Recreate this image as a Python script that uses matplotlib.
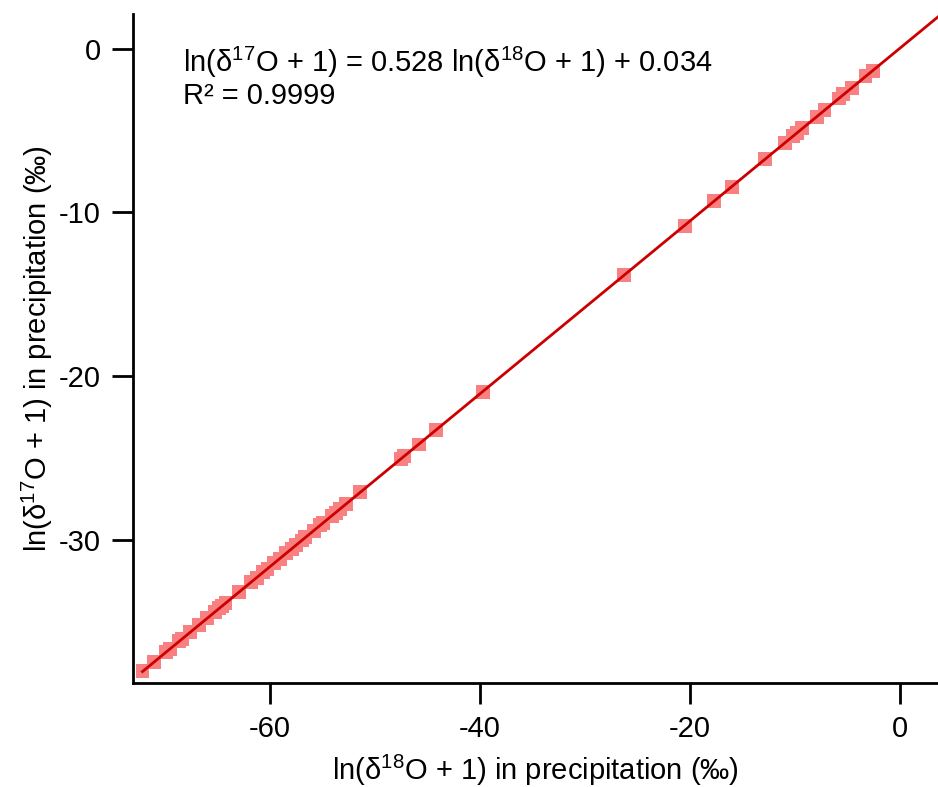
import matplotlib
matplotlib.use("Agg")
import matplotlib.pyplot as plt
import numpy as np

plt.rcParams['font.family'] = ['Liberation Sans', 'DejaVu Sans']
plt.rcParams['mathtext.fontset'] = 'custom'
plt.rcParams['mathtext.rm'] = 'Liberation Sans'
plt.rcParams['mathtext.it'] = 'Liberation Sans'
plt.rcParams['mathtext.bf'] = 'Liberation Sans'

# ln(d18O+1) in precipitation (permil)
d18 = [-72.1, -71.0, -69.9, -69.5, -68.6, -68.3, -67.6, -66.7, -66.0, -65.2,
       -64.8, -64.5, -64.2, -62.9, -61.8, -61.2, -60.6, -60.2, -59.6, -59.0,
       -58.4, -57.9, -57.5, -56.9, -56.6, -55.8, -55.2, -54.9, -54.1, -53.7,
       -53.3, -52.7, -51.4, -47.5, -47.2, -45.8, -44.2, -39.7, -26.3, -20.5,
       -17.7, -16.0, -12.9, -11.0, -10.2, -9.8, -9.3, -7.9, -7.2, -5.8,
       -5.4, -4.6, -3.3, -2.6]
# ln(d17O+1) in precipitation (permil)
d17 = [-38.02, -37.47, -36.85, -36.68, -36.17, -36.05, -35.64, -35.20, -34.79, -34.41,
       -34.16, -34.04, -33.84, -33.20, -32.58, -32.30, -31.94, -31.77, -31.41, -31.14,
       -30.78, -30.56, -30.31, -30.03, -29.83, -29.45, -29.09, -28.97, -28.51, -28.34,
       -28.09, -27.81, -27.08, -25.07, -24.87, -24.17, -23.28, -20.95, -13.83, -10.81,
       -9.29, -8.43, -6.76, -5.79, -5.33, -5.16, -4.86, -4.16, -3.75, -3.05,
       -2.80, -2.42, -1.69, -1.36]

slope = 0.528
intercept = 0.034
r2_text = "0.9999"

xticks = [-60, -40, -20, 0]
yticks = [0, -10, -20, -30]

fig = plt.figure(figsize=(9.38, 7.87), dpi=100)
ax = fig.add_axes([0.1418, 0.1322, 0.8582, 0.8498])

ax.scatter(d18, d17, marker='s', s=100, color='#f98080', edgecolors='none', zorder=2)

xl = np.array([min(d18), 10])
ax.plot(xl, slope * xl + intercept, color='#cc0000', lw=2.0, zorder=3)

ax.set_xlim(-73.0, 3.6)
ax.set_ylim(-38.73, 2.1)
ax.set_xticks(xticks)
ax.set_yticks(yticks)
ax.set_xticklabels([str(t) for t in xticks])
ax.set_yticklabels([str(t) for t in yticks])

for s in ['top', 'right']:
    ax.spines[s].set_visible(False)
for s in ['left', 'bottom']:
    ax.spines[s].set_linewidth(2.0)
ax.tick_params(axis='both', direction='out', length=15, width=2.0, labelsize=21, pad=8)

ax.set_xlabel(r'ln(δ$^{18}$O + 1) in precipitation (‰)', fontsize=21, labelpad=7)
ax.set_ylabel(r'ln(δ$^{17}$O + 1) in precipitation (‰)', fontsize=21, labelpad=3)

ax.text(0.062, 0.913, r'ln(δ$^{17}$O + 1) = ' + f'{slope:.3f}' + r' ln(δ$^{18}$O + 1) + ' + f'{intercept:.3f}',
        transform=ax.transAxes, fontsize=21, va='baseline', ha='left')
ax.text(0.062, 0.865, 'R² = ' + r2_text, transform=ax.transAxes, fontsize=21, va='baseline', ha='left')

fig.savefig('out.png', dpi=100)
